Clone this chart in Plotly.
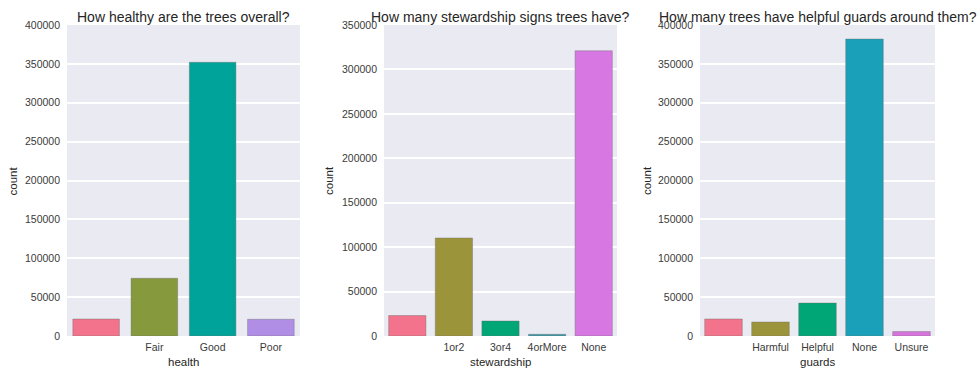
import plotly.graph_objects as go

# ---- data ----
health_cats = [" ", "Fair", "Good", "Poor"]
health_counts = [21800, 74200, 352000, 21500]

steward_cats = [" ", "1or2", "3or4", "4orMore", "None"]
steward_counts = [23000, 110300, 16900, 1900, 321000]

guard_cats = [" ", "Harmful", "Helpful", "None", "Unsure"]
guard_counts = [21900, 18000, 42400, 382000, 5700]

titles = ["How healthy are the trees overall?",
          "How many stewardship signs trees have?",
          "How many trees have helpful guards around them?"]
xlabels = ["health", "stewardship", "guards"]
ymax = [400000, 350000, 400000]

# ---- styles ----
health_colors = ["#f2738b", "#86993c", "#00a39a", "#b08ee6"]
steward_colors = ["#f2738b", "#9c943a", "#00a676", "#3a9aa8", "#d677e2"]
guard_colors = ["#f2738b", "#9c943a", "#00a676", "#1aa0b8", "#d673dc"]

W, H = 979, 375
panels_px = [(67, 300), (384, 617), (700, 935)]
top_px, bot_px = 25, 336
ylab_x = [12.5, 329, 647]

FONT = "Liberation Sans, Arial, sans-serif"
TXT = "#262626"
TICK = "#3a3a3a"

fig = go.Figure()
series = [(health_cats, health_counts, health_colors),
          (steward_cats, steward_counts, steward_colors),
          (guard_cats, guard_counts, guard_colors)]

layout = dict(
    width=W, height=H,
    margin=dict(l=0, r=0, t=0, b=0, autoexpand=False),
    paper_bgcolor="white",
    plot_bgcolor="#eaeaf2",
    showlegend=False,
    bargap=0.2,
    font=dict(family=FONT, color=TXT),
    annotations=[],
)

for i, (cats, vals, cols) in enumerate(series):
    xa = "x" if i == 0 else f"x{i+1}"
    ya = "y" if i == 0 else f"y{i+1}"
    fig.add_trace(go.Bar(
        x=cats, y=vals, xaxis=xa, yaxis=ya,
        marker=dict(color=cols, line=dict(color="rgba(110,110,110,0.4)", width=1)),
        width=0.8,
    ))
    l, r = panels_px[i]
    xkey = "xaxis" if i == 0 else f"xaxis{i+1}"
    ykey = "yaxis" if i == 0 else f"yaxis{i+1}"
    layout[xkey] = dict(
        domain=[l / W, r / W], anchor=ya, automargin=False,
        type="category", categoryorder="array", categoryarray=cats,
        range=[-0.5, len(cats) - 0.5],
        showgrid=False, zeroline=False, showline=False, ticks="",
        tickfont=dict(size=10.5, color=TICK, family=FONT),
        ticklabelstandoff=3,
    )
    layout[ykey] = dict(
        domain=[1 - bot_px / H, 1 - top_px / H], anchor=xa, automargin=False,
        range=[0, ymax[i]], dtick=50000, tickformat="d",
        showgrid=True, gridcolor="white", gridwidth=1.5,
        zeroline=False, showline=False, ticks="",
        tickfont=dict(size=10.5, color=TICK, family=FONT),
        ticklabelstandoff=6,
    )
    cx = (l + r) / 2 / W
    layout["annotations"].append(dict(
        text=titles[i], x=cx, y=1 - 17 / H, xref="paper", yref="paper",
        xanchor="center", yanchor="middle", showarrow=False,
        font=dict(size=14, color=TXT, family=FONT),
    ))
    layout["annotations"].append(dict(
        text=xlabels[i], x=cx, y=1 - 362 / H, xref="paper", yref="paper",
        xanchor="center", yanchor="middle", showarrow=False,
        font=dict(size=11.5, color=TXT, family=FONT),
    ))
    layout["annotations"].append(dict(
        text="count", x=ylab_x[i] / W, y=1 - 181 / H, xref="paper", yref="paper",
        xanchor="center", yanchor="middle", showarrow=False, textangle=-90,
        font=dict(size=11.5, color=TXT, family=FONT),
    ))

fig.update_layout(**layout)
fig.write_html("out.html", config={"displayModeBar": False},
               post_script="document.body.style.margin='0';document.body.style.overflow='hidden';")
